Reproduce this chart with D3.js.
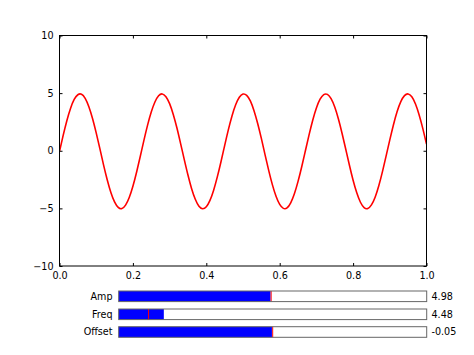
<!DOCTYPE html>
<html><head><meta charset="utf-8">
<script src="https://cdn.jsdelivr.net/npm/d3@7"></script>
<style>body{margin:0;background:#fff}svg{display:block;font-family:"DejaVu Sans",sans-serif}</style>
</head><body><svg id="c" width="474" height="355"></svg>
<script>
const tValues = d3.range(0, 101).map(i => i / 100);
const yValues = [-0.05,1.33,2.61,3.67,4.45,4.86,4.90,4.54,3.82,2.80,1.55,0.18,-1.22,-2.51,-3.62,-4.44,-4.92,-5.02,-4.72,-4.06,-3.08,-1.86,-0.50,0.90,2.22,3.36,4.23,4.77,4.93,4.69,4.09,3.15,1.97,0.62,-0.77,-2.11,-3.29,-4.21,-4.81,-5.03,-4.86,-4.31,-3.42,-2.27,-0.95,0.45,1.81,3.02,3.99,4.64,4.92,4.81,4.32,3.48,2.37,1.07,-0.33,-1.70,-2.94,-3.95,-4.66,-5.00,-4.96,-4.52,-3.74,-2.66,-1.39,0.00,1.38,2.65,3.71,4.47,4.87,4.89,4.52,3.79,2.75,1.50,0.13,-1.26,-2.56,-3.65,-4.47,-4.93,-5.01,-4.70,-4.03,-3.04,-1.81,-0.45,0.94,2.26,3.40,4.26,4.78,4.93,4.68,4.06,3.11,1.92,0.57];
const xTicks = [0, 0.2, 0.4, 0.6, 0.8, 1.0];
const yTicks = [-10, -5, 0, 5, 10];
const sliderNames = ["Amp", "Freq", "Offset"];
const sliderMin = [0.1, 0.1, -10];
const sliderMax = [10, 30, 10];
const sliderInit = [5, 3, 0];
const sliderVals = [4.98, 4.48, -0.05];
const sliderText = ["4.98", "4.48", "-0.05"];

const svg = d3.select("#c");
const L = 59.5, R = 426.5, T = 35.5, B = 266;
const x = d3.scaleLinear().domain([0, 1]).range([L, R]);
const y = d3.scaleLinear().domain([-10, 10]).range([B, T]);
const fs = 9.6;

// curve
const clip = svg.append("clipPath").attr("id","cp").append("rect")
  .attr("x", L).attr("y", T).attr("width", R - L).attr("height", B - T);
svg.append("path").datum(tValues.map((t, i) => [t, yValues[i]]))
  .attr("clip-path","url(#cp)")
  .attr("d", d3.line().x(d => x(d[0])).y(d => y(d[1])).curve(d3.curveNatural))
  .attr("fill","none").attr("stroke","#ff0000").attr("stroke-width",1.6);

// frame
svg.append("rect").attr("x", L).attr("y", T).attr("width", R - L).attr("height", B - T)
  .attr("fill","none").attr("stroke","#000").attr("stroke-width",1);

// axes (inward ticks)
const tl = 3;
const gx = svg.append("g").attr("transform", `translate(0,${B})`)
  .call(d3.axisBottom(x).tickValues(xTicks).tickSize(-tl).tickPadding(6).tickFormat(d3.format(".1f")));
const gxt = svg.append("g").attr("transform", `translate(0,${T})`)
  .call(d3.axisTop(x).tickValues(xTicks).tickSize(-tl).tickFormat(""));
const gy = svg.append("g").attr("transform", `translate(${L},0)`)
  .call(d3.axisLeft(y).tickValues(yTicks).tickSize(-tl).tickPadding(6).tickFormat(d => d < 0 ? "\u2212" + Math.abs(d) : d));
const gyr = svg.append("g").attr("transform", `translate(${R},0)`)
  .call(d3.axisRight(y).tickValues(yTicks).tickSize(-tl).tickFormat(""));
[gx, gxt, gy, gyr].forEach(g => {
  g.select(".domain").remove();
  g.selectAll("text").attr("font-size", fs).attr("fill", "#000").attr("font-family", '"DejaVu Sans",sans-serif');
  g.selectAll("line").attr("stroke", "#000");
});

// sliders
const sTop = [291, 309, 326.7];
const sH = 10.6;
sliderNames.forEach((name, i) => {
  const s = d3.scaleLinear().domain([sliderMin[i], sliderMax[i]]).range([118.7, 426.7]);
  const g = svg.append("g");
  g.append("rect").attr("x", s(sliderMin[i])).attr("y", sTop[i]).attr("width", s(sliderVals[i]) - s(sliderMin[i])).attr("height", sH)
    .attr("fill", "#0000ff");
  g.append("line").attr("x1", s(sliderInit[i])).attr("x2", s(sliderInit[i])).attr("y1", sTop[i]).attr("y2", sTop[i] + sH)
    .attr("stroke", "#ff0000").attr("stroke-width", 1);
  g.append("rect").attr("x", s(sliderMin[i])).attr("y", sTop[i]).attr("width", s(sliderMax[i]) - s(sliderMin[i])).attr("height", sH)
    .attr("fill", "none").attr("stroke", "#666").attr("stroke-width", 1);
  g.append("text").attr("x", 112.5).attr("y", sTop[i] + sH / 2).attr("dy", "0.35em")
    .attr("text-anchor", "end").attr("font-size", fs).text(name);
  g.append("text").attr("x", 431.5).attr("y", sTop[i] + sH / 2).attr("dy", "0.35em")
    .attr("text-anchor", "start").attr("font-size", fs).text(sliderText[i]);
});
</script></body></html>
